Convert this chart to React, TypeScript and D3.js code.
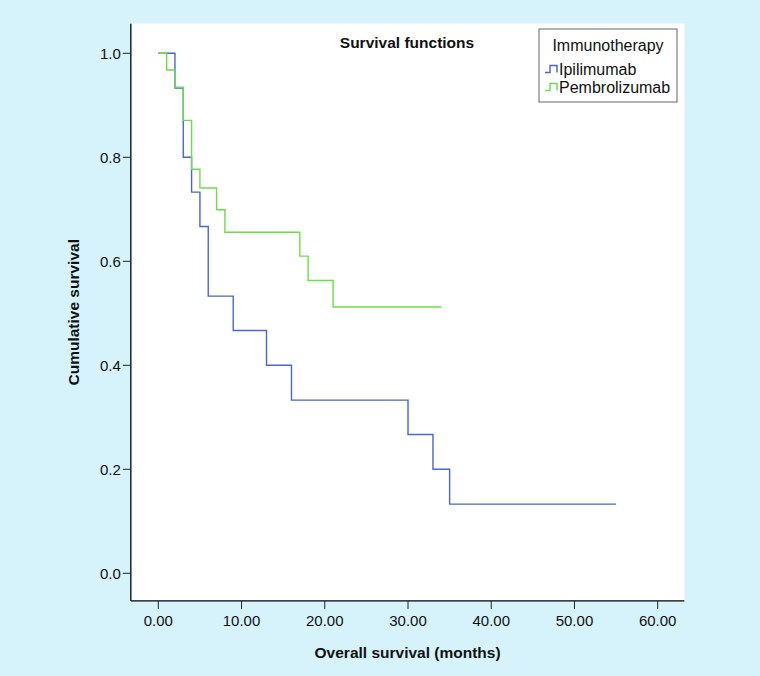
import * as d3 from 'd3';

// Kaplan-Meier step points: [months, cumulative survival]
const ipiTimes = [0, 2, 3, 4, 5, 6, 9, 13, 16, 30, 33, 35, 55];
const ipiSurv = [1.0, 0.933, 0.8, 0.733, 0.667, 0.533, 0.467, 0.4, 0.333, 0.267, 0.2, 0.133, 0.133];

const pembroTimes = [0, 1, 2, 3, 4, 5, 7, 8, 17, 18, 21, 34];
const pembroSurv = [1.0, 0.968, 0.935, 0.871, 0.777, 0.741, 0.699, 0.656, 0.61, 0.563, 0.512, 0.512];

const xTicks = [0, 10, 20, 30, 40, 50, 60];
const yTicks = [0, 0.2, 0.4, 0.6, 0.8, 1.0];

const seriesNames = ['Ipilimumab', 'Pembrolizumab'];
const seriesColors = ['#4b66d2', '#6ddc4c'];

const W = 760;
const H = 676;
const font = 'Liberation Sans, Arial, sans-serif';

export default function App() {
  const x = d3.scaleLinear().domain([0, 60]).range([158.3, 657.7]);
  const y = d3.scaleLinear().domain([0, 1]).range([573.3, 53.3]);

  const left = x(-3.3);
  const right = x(63.2);
  const top = y(1.057);
  const bottom = y(-0.053);

  const line = d3
    .line<[number, number]>()
    .x((d) => x(d[0]))
    .y((d) => y(d[1]))
    .curve(d3.curveStepAfter);

  const series = [
    d3.zip(ipiTimes, ipiSurv) as [number, number][],
    d3.zip(pembroTimes, pembroSurv) as [number, number][],
  ];

  const fx = d3.format('.2f');
  const fy = d3.format('.1f');

  const lgX = 539;
  const lgY = 29;

  return (
    <svg
      width={W}
      height={H}
      style={{ position: 'absolute', left: 0, top: 0, fontFamily: font }}
    >
      <rect x={0} y={0} width={W} height={H} fill="#d6f3fc" />
      <rect x={left} y={top} width={right - left} height={bottom - top} fill="#ffffff" />

      {series.map((pts, i) => (
        <path
          key={seriesNames[i]}
          d={line(pts) || ''}
          fill="none"
          stroke={seriesColors[i]}
          strokeWidth={1.4}
        />
      ))}

      {/* axes */}
      <line x1={left} x2={left} y1={top} y2={bottom} stroke="#000" strokeWidth={1.3} />
      <line x1={left} x2={right} y1={bottom} y2={bottom} stroke="#000" strokeWidth={1.3} />

      {yTicks.map((t) => (
        <g key={'y' + t}>
          <line x1={left - 8} x2={left} y1={y(t)} y2={y(t)} stroke="#222" strokeWidth={1} />
          <text
            x={left - 10}
            y={y(t)}
            textAnchor="end"
            dominantBaseline="central"
            fontSize={15}
            fill="#111"
          >
            {fy(t)}
          </text>
        </g>
      ))}

      {xTicks.map((t) => (
        <g key={'x' + t}>
          <line x1={x(t)} x2={x(t)} y1={bottom} y2={bottom + 8} stroke="#222" strokeWidth={1} />
          <text x={x(t)} y={bottom + 25} textAnchor="middle" fontSize={15} fill="#111">
            {fx(t)}
          </text>
        </g>
      ))}

      <text
        x={(left + right) / 2}
        y={658}
        textAnchor="middle"
        fontSize={15.5}
        fontWeight="bold"
        fill="#111"
      >
        Overall survival (months)
      </text>
      <text
        transform={`translate(79,${(top + bottom) / 2}) rotate(-90)`}
        textAnchor="middle"
        fontSize={15.5}
        fontWeight="bold"
        fill="#111"
      >
        Cumulative survival
      </text>

      <text x={407} y={48} textAnchor="middle" fontSize={15.5} fontWeight="bold" fill="#111">
        Survival functions
      </text>

      {/* legend */}
      <rect x={lgX} y={lgY} width={138} height={73} fill="#fff" stroke="#666" strokeWidth={1} />
      <text x={lgX + 69} y={lgY + 22} textAnchor="middle" fontSize={16} fill="#111">
        Immunotherapy
      </text>
      {seriesNames.map((name, i) => {
        const cy = lgY + 40 + i * 18;
        return (
          <g key={name}>
            <path
              d={`M${lgX + 6},${cy + 3.5} H${lgX + 11} V${cy - 3.5} H${lgX + 18} V${cy + 3.5}`}
              fill="none"
              stroke={seriesColors[i]}
              strokeWidth={1.4}
            />
            <text x={lgX + 20} y={cy} dominantBaseline="central" fontSize={16} fill="#111">
              {name}
            </text>
          </g>
        );
      })}
    </svg>
  );
}
